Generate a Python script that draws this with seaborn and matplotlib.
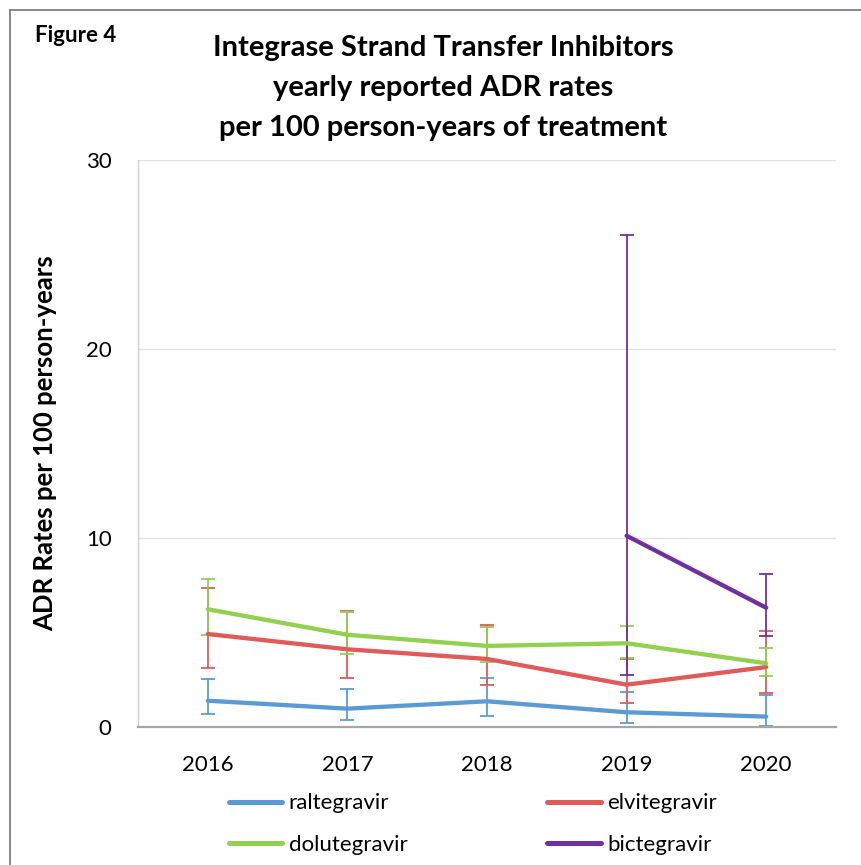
import numpy as np
import pandas as pd
import matplotlib
matplotlib.use("Agg")
import matplotlib.pyplot as plt
import seaborn as sns
from matplotlib.lines import Line2D

years = [2016, 2017, 2018, 2019, 2020]

ralt = [1.39, 0.97, 1.36, 0.78, 0.55]
ralt_lo = [0.69, 0.35, 0.60, 0.23, 0.07]
ralt_hi = [2.56, 2.03, 2.61, 1.87, 1.69]

elvi = [4.92, 4.11, 3.60, 2.24, 3.17]
elvi_lo = [3.14, 2.57, 2.22, 1.28, 1.82]
elvi_hi = [7.34, 6.15, 5.41, 3.62, 5.08]

dolu = [6.23, 4.88, 4.29, 4.43, 3.37]
dolu_lo = [4.87, 3.88, 3.42, 3.63, 2.70]
dolu_hi = [7.83, 6.10, 5.27, 5.33, 4.20]

bict_years = [2019, 2020]
bict = [10.12, 6.31]
bict_lo = [2.73, 4.81]
bict_hi = [26.03, 8.10]

names = ["raltegravir", "elvitegravir", "dolutegravir", "bictegravir"]
colors = ["#5B9BD5", "#E05A5A", "#92D050", "#7030A0"]

rows = []
for n, ys, vals, lo, hi in [
    (names[0], years, ralt, ralt_lo, ralt_hi),
    (names[1], years, elvi, elvi_lo, elvi_hi),
    (names[2], years, dolu, dolu_lo, dolu_hi),
    (names[3], bict_years, bict, bict_lo, bict_hi),
]:
    for y, v, l, h in zip(ys, vals, lo, hi):
        rows.append({"year": y, "rate": v, "lo": l, "hi": h, "drug": n})
df = pd.DataFrame(rows)

sns.set_theme(style="white")
plt.rcParams["font.family"] = ["Lato", "DejaVu Sans"]
plt.rcParams["text.color"] = "black"
plt.rcParams["axes.labelcolor"] = "black"

fig = plt.figure(figsize=(8.62, 8.65), dpi=100)
ax = fig.add_axes([138/862, (865-727)/865, (836-138)/862, (727-160)/865])

pal = dict(zip(names, colors))
for n in names:
    sub = df[df.drug == n]
    ax.errorbar(sub.year, sub.rate,
                yerr=[sub.rate - sub.lo, sub.hi - sub.rate],
                fmt="none", ecolor=pal[n], elinewidth=1.3,
                capsize=5, capthick=1.3, zorder=2)
sns.lineplot(data=df, x="year", y="rate", hue="drug", hue_order=names,
             palette=pal, linewidth=3.1, ax=ax, legend=False, zorder=3,
             sort=True)

ax.set_xlim(2015.5, 2020.5)
ax.set_ylim(0, 30)
ax.set_yticks([0, 10, 20, 30])
ax.set_xticks(years)
ax.set_xticklabels([str(y) for y in years])
ax.yaxis.grid(True, color="#e3e3e3", linewidth=1)
ax.xaxis.grid(False)
for s in ["top", "right"]:
    ax.spines[s].set_visible(False)
ax.spines["left"].set_color("#d0d0d0")
ax.spines["left"].set_linewidth(1)
ax.spines["bottom"].set_color("#a6a6a6")
ax.spines["bottom"].set_linewidth(1.6)
ax.tick_params(axis="y", length=0, pad=19, labelsize=16, labelcolor="black")
ax.tick_params(axis="x", length=0, pad=20, labelsize=16, labelcolor="black")
ax.set_xlabel("")
ax.set_ylabel("")
ax.set_facecolor("white")

fig.text(45/862, 1 - 443/865, "ADR Rates per 100 person-years",
         rotation=90, ha="center", va="center", fontsize=18.5,
         fontweight="bold")

fig.text(443/862, 1 - 88/865,
         "Integrase Strand Transfer Inhibitors\nyearly reported ADR rates\nper 100 person-years of treatment",
         ha="center", va="center", fontsize=21, fontweight="bold",
         linespacing=1.65)
fig.text(35/862, 1 - 36/865, "Figure 4", ha="left", va="center",
         fontsize=16, fontweight="bold")

handles = [Line2D([], [], color=pal[n], linewidth=3.6) for n in names]
order = [0, 2, 1, 3]
leg = fig.legend([handles[i] for i in order], [names[i] for i in order],
                 ncol=2, loc="center", bbox_to_anchor=(473/862, 1 - 824/865),
                 frameon=False, fontsize=16, handlelength=2.4,
                 handletextpad=0.3, columnspacing=6.3, labelspacing=0.95)

# outer border (partially visible)
bx = 10/862
by = 1 - 10/865
fig.add_artist(Line2D([bx, bx], [0, by], transform=fig.transFigure,
                      color="#7f7f7f", linewidth=1.3))
fig.add_artist(Line2D([bx, 1], [by, by], transform=fig.transFigure,
                      color="#7f7f7f", linewidth=1.3))

fig.savefig("out.png", dpi=100, facecolor="white")
